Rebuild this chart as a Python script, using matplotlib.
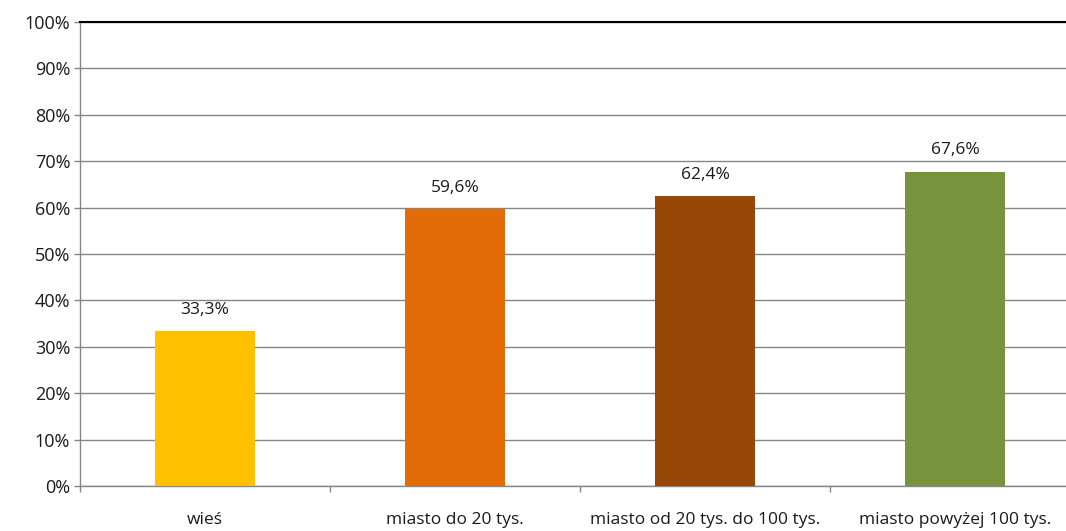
import matplotlib
matplotlib.use("Agg")
import matplotlib.pyplot as plt
import numpy as np

categories = ["wieś", "miasto do 20 tys.", "miasto od 20 tys. do 100 tys.", "miasto powyżej 100 tys."]
values = [33.3, 59.6, 62.4, 67.6]
colors = ["#FFC000", "#E36C09", "#974806", "#77933C"]
y_ticks = list(range(0, 101, 10))

plt.rcParams['font.family'] = ['Open Sans', 'DejaVu Sans']

fig = plt.figure(figsize=(10.66, 5.31), dpi=100)
# axes runs past the right edge of the figure, as in the original
ax = fig.add_axes([80 / 1066, 45 / 531, 1000 / 1066, 464 / 531])

x = np.arange(len(categories))
ax.bar(x, values, width=0.4, color=colors, zorder=3)

for xi, v in zip(x, values):
    ax.text(xi, v + 3.0, f"{v:.1f}%".replace(".", ","), ha='center', va='bottom',
            fontsize=12.5, color='#1a1a1a')

ax.set_xlim(-0.5, 3.5)
ax.set_ylim(0, 100)
ax.set_yticks(y_ticks)
ax.set_yticklabels([f"{t}%" for t in y_ticks], fontsize=13, color='#1a1a1a')

ax.set_xticks(x)
ax.set_xticklabels(categories, fontsize=12.5, color='#1a1a1a')
ax.tick_params(axis='x', length=0, pad=19)
ax.set_xticks(np.arange(-0.5, 4.0, 1.0), minor=True)
ax.tick_params(axis='x', which='minor', length=4, color='#868686', width=1)
ax.tick_params(axis='y', length=4, color='#868686', width=1, pad=3)

ax.grid(axis='y', color='#868686', linewidth=1, zorder=0)
ax.set_axisbelow(True)

for s in ['top', 'right']:
    ax.spines[s].set_visible(False)
ax.spines['left'].set_color('#868686')
ax.spines['bottom'].set_color('#868686')
ax.spines['left'].set_linewidth(1)
ax.spines['bottom'].set_linewidth(1)
ax.axhline(100, color='black', linewidth=1.5, zorder=4, clip_on=False)

fig.savefig("out.png", dpi=100)
